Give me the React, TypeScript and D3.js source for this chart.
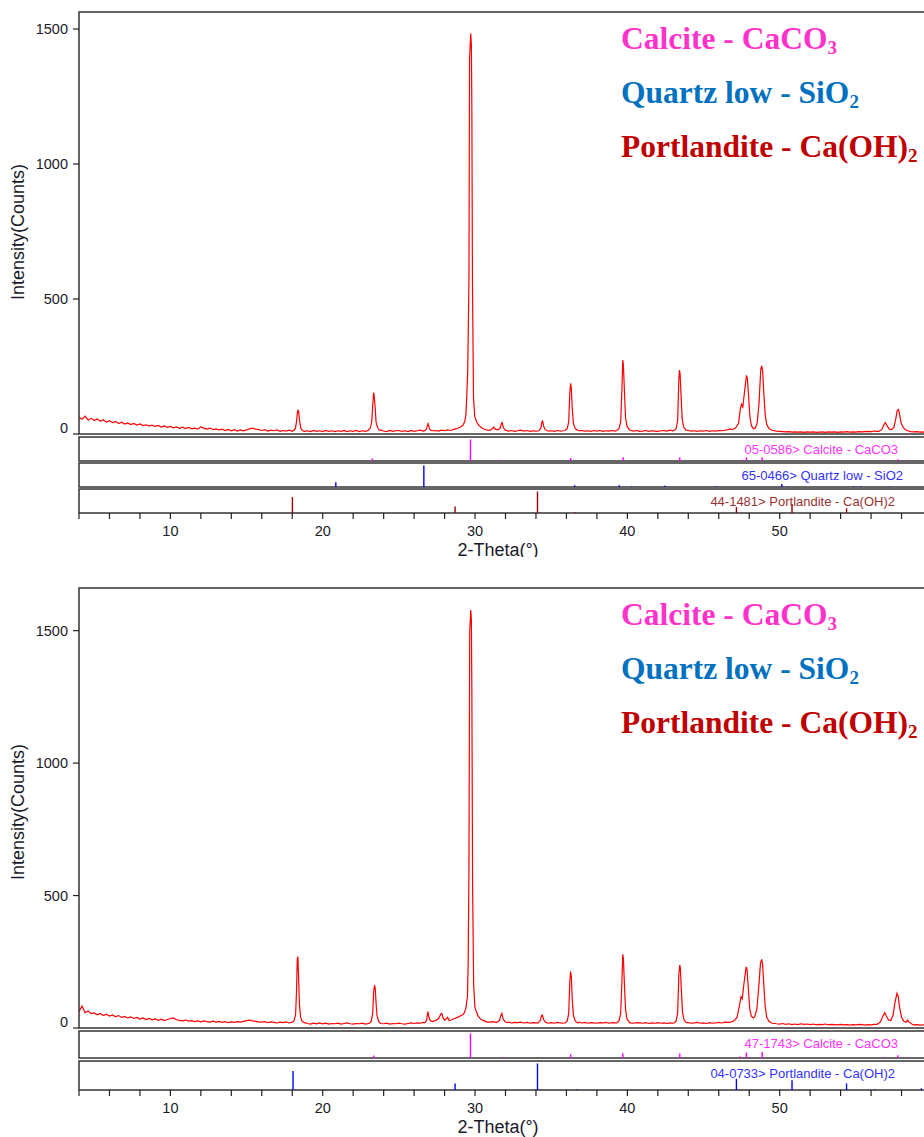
import React from "react";
import * as d3 from "d3";

// values
// background: counts every 0.2° starting at 4°, peaks: [2θ, counts]
const bgStart = 4;
const bgStep = 0.2;

const bgTop = [
  62, 55, 66, 52, 58, 50, 56, 47, 53, 44, 49, 42, 46, 39, 44, 37, 41, 35, 39, 33,
  37, 31, 34, 29, 33, 28, 32, 26, 30, 25, 28, 23, 26, 21, 25, 20, 24, 19, 22, 18,
  27, 21, 18, 22, 16, 19, 15, 18, 13, 17, 12, 16, 11, 15, 12, 15, 19, 22, 18, 16,
  13, 16, 11, 14, 12, 15, 10, 13, 11, 14, 10, 13, 11, 14, 10, 12, 9, 13, 10, 12,
  9, 13, 10, 12, 9, 12, 10, 13, 9, 12, 10, 13, 9, 12, 10, 12, 10, 13, 11, 14,
  11, 9, 13, 10, 12, 13, 10, 12, 9, 13, 10, 12, 14, 11, 13, 12, 10, 13, 11, 14,
  12, 15, 13, 17, 20, 24, 30, 36, 44, 60, 40, 28, 20, 16, 14, 13, 16, 15, 14, 17,
  14, 11, 13, 10, 12, 14, 11, 13, 10, 12, 11, 13, 14, 12, 11, 12, 10, 13, 11, 12,
  14, 15, 16, 14, 12, 13, 11, 12, 10, 13, 11, 13, 10, 12, 11, 13, 11, 14, 16, 15,
  12, 14, 11, 13, 10, 11, 13, 10, 12, 11, 10, 12, 13, 11, 14, 12, 14, 16, 15, 13,
  13, 11, 12, 10, 12, 11, 13, 10, 12, 11, 13, 12, 14, 16, 19, 22, 30, 40, 60, 80,
  40, 20, 30, 80, 100, 40, 18, 12, 11, 10, 10, 9, 8, 9, 7, 8, 7, 8, 6, 8,
  7, 8, 6, 7, 8, 6, 8, 7, 8, 6, 8, 7, 9, 7, 8, 7, 9, 8, 9, 10,
  9, 11, 10, 12, 15, 20, 18, 25, 60, 80, 25, 12, 10, 9, 8, 9, 7, 8, 6, 8,
  7,
];

const peaksTop: [number, number][][] = [
  [[18.1, 14], [18.2, 20], [18.28, 45], [18.34, 80], [18.38, 88], [18.42, 84], [18.48, 50], [18.56, 22], [18.66, 13]],
  [[23.0, 14], [23.12, 22], [23.22, 45], [23.28, 105], [23.34, 153], [23.38, 140], [23.44, 100], [23.5, 45], [23.6, 24], [23.72, 14]],
  [[26.7, 12], [26.8, 18], [26.88, 32], [26.92, 38], [26.98, 25], [27.06, 15], [27.2, 12]],
  [[28.9, 22], [29.05, 26], [29.2, 32], [29.32, 45], [29.4, 70], [29.45, 130], [29.52, 233], [29.6, 567], [29.64, 1389],
    [29.72, 1483], [29.76, 1440], [29.79, 1215], [29.83, 567], [29.9, 133], [29.98, 66], [30.1, 45], [30.25, 32], [30.45, 22], [30.7, 16]],
  [[31.0, 14], [31.15, 20], [31.23, 26], [31.32, 18], [31.5, 15], [31.65, 22], [31.74, 40], [31.78, 42], [31.86, 24], [31.98, 14]],
  [[34.2, 12], [34.32, 22], [34.4, 46], [34.44, 48], [34.5, 30], [34.6, 16], [34.75, 12]],
  [[35.9, 13], [36.05, 20], [36.15, 45], [36.22, 150], [36.28, 188], [36.32, 170], [36.38, 95], [36.46, 38], [36.58, 20], [36.75, 13]],
  [[39.3, 13], [39.45, 20], [39.56, 45], [39.64, 160], [39.7, 274], [39.74, 255], [39.8, 170], [39.88, 60], [39.98, 28], [40.15, 15]],
  [[43.05, 13], [43.2, 20], [43.3, 48], [43.38, 200], [43.42, 237], [43.46, 225], [43.52, 150], [43.6, 55], [43.7, 25], [43.85, 14]],
  [[46.9, 16], [47.1, 22], [47.3, 40], [47.42, 95], [47.5, 110], [47.58, 100], [47.7, 160], [47.82, 217], [47.88, 205],
    [47.96, 140], [48.05, 60], [48.15, 30], [48.28, 19], [48.4, 22], [48.52, 40], [48.64, 110], [48.76, 240], [48.82, 252],
    [48.88, 235], [48.96, 150], [49.05, 70], [49.15, 35], [49.3, 20], [49.5, 14], [49.8, 11]],
  [[56.5, 10], [56.7, 16], [56.85, 35], [56.94, 42], [57.05, 30], [57.2, 18], [57.35, 16], [57.5, 25], [57.62, 55],
    [57.72, 88], [57.8, 91], [57.88, 70], [57.98, 40], [58.1, 25], [58.25, 16], [58.45, 11]],
];

const bgBottom = [
  62, 83, 58, 64, 54, 57, 50, 55, 47, 52, 45, 49, 42, 47, 40, 44, 38, 42, 36, 40,
  34, 38, 32, 36, 31, 34, 29, 33, 28, 32, 36, 38, 31, 29, 27, 30, 26, 28, 24, 27,
  23, 27, 24, 22, 26, 22, 25, 21, 24, 20, 23, 21, 24, 22, 25, 28, 30, 27, 25, 23,
  22, 24, 20, 23, 21, 19, 22, 20, 23, 19, 21, 24, 30, 40, 25, 17, 15, 18, 16, 19,
  16, 18, 15, 17, 16, 18, 15, 17, 19, 16, 15, 17, 16, 18, 15, 17, 16, 30, 40, 20,
  16, 18, 15, 17, 16, 18, 16, 15, 17, 19, 17, 19, 18, 21, 20, 26, 24, 28, 36, 50,
  30, 38, 28, 34, 38, 44, 50, 70, 200, 900, 60, 35, 30, 28, 26, 22, 24, 21, 23, 30,
  20, 22, 19, 21, 20, 22, 19, 21, 18, 20, 19, 21, 35, 30, 20, 20, 18, 21, 19, 18,
  20, 60, 150, 40, 22, 19, 21, 18, 20, 19, 18, 20, 19, 21, 18, 20, 19, 40, 200, 60,
  21, 19, 18, 20, 19, 18, 20, 17, 19, 18, 20, 18, 19, 17, 19, 18, 24, 60, 200, 40,
  20, 18, 19, 21, 18, 19, 17, 20, 18, 19, 21, 19, 22, 21, 24, 27, 40, 90, 170, 220,
  60, 40, 45, 150, 250, 80, 30, 20, 17, 16, 15, 17, 14, 16, 13, 15, 13, 16, 14, 15,
  13, 15, 12, 14, 13, 15, 12, 14, 13, 12, 14, 12, 13, 11, 13, 12, 14, 13, 11, 13,
  12, 14, 22, 50, 45, 30, 50, 120, 75, 30, 22, 30, 22, 14, 12, 13, 11, 12, 14, 12,
  12,
];

const peaksBottom: [number, number][][] = [
  [[18.0, 22], [18.12, 28], [18.22, 50], [18.28, 140], [18.33, 262], [18.37, 269], [18.41, 200], [18.47, 90], [18.55, 40], [18.65, 25], [18.8, 20]],
  [[23.05, 17], [23.18, 25], [23.28, 55], [23.34, 135], [23.4, 162], [23.45, 150], [23.5, 95], [23.57, 45], [23.68, 24], [23.8, 17]],
  [[26.7, 20], [26.82, 28], [26.9, 62], [26.96, 45], [27.05, 28], [27.2, 24], [27.4, 28], [27.6, 35], [27.75, 52], [27.82, 55],
    [27.9, 38], [28.0, 30], [28.12, 35], [28.2, 40], [28.3, 28], [28.45, 30], [28.65, 36], [28.85, 40], [29.05, 46], [29.2, 50],
    [29.3, 58], [29.4, 75], [29.5, 118], [29.55, 245], [29.6, 596], [29.65, 1491], [29.72, 1578], [29.76, 1540], [29.79, 1288],
    [29.84, 533], [29.91, 162], [29.99, 80], [30.05, 68], [30.2, 45], [30.4, 32], [30.6, 27], [30.8, 22]],
  [[31.45, 22], [31.6, 28], [31.7, 48], [31.76, 55], [31.84, 35], [31.95, 24], [32.1, 20]],
  [[34.15, 19], [34.28, 28], [34.36, 46], [34.42, 49], [34.5, 32], [34.62, 22], [34.8, 18]],
  [[35.9, 19], [36.05, 26], [36.15, 55], [36.22, 170], [36.27, 213], [36.32, 195], [36.38, 110], [36.46, 48], [36.58, 26], [36.75, 19]],
  [[39.3, 19], [39.45, 27], [39.56, 55], [39.64, 170], [39.7, 278], [39.74, 262], [39.8, 175], [39.88, 70], [39.98, 33], [40.15, 21]],
  [[43.05, 19], [43.2, 26], [43.3, 55], [43.38, 200], [43.44, 238], [43.48, 225], [43.54, 150], [43.62, 60], [43.72, 30], [43.88, 20]],
  [[46.8, 22], [47.0, 27], [47.2, 40], [47.36, 85], [47.46, 118], [47.54, 110], [47.66, 170], [47.8, 231], [47.86, 220],
    [47.94, 150], [48.04, 70], [48.14, 45], [48.26, 38], [48.36, 42], [48.5, 70], [48.62, 150], [48.74, 245], [48.82, 259],
    [48.88, 240], [48.96, 160], [49.05, 80], [49.15, 40], [49.3, 25], [49.5, 18], [49.8, 16]],
  [[56.4, 14], [56.6, 22], [56.78, 45], [56.9, 58], [57.0, 45], [57.15, 30], [57.3, 28], [57.45, 50], [57.58, 100],
    [57.7, 131], [57.78, 120], [57.88, 75], [58.0, 40], [58.15, 25], [58.3, 22], [58.4, 30], [58.5, 22], [58.7, 14]],
];

// reference sticks: [2θ, relative intensity %]
const calciteTop: [number, number][] = [
  [23.26, 12], [29.7, 100], [31.67, 3], [36.28, 14], [39.72, 18], [43.44, 18], [47.56, 5], [47.82, 17], [48.85, 17],
  [56.86, 4], [57.77, 8], [58.43, 2],
];
const quartzTop: [number, number][] = [
  [20.86, 22], [26.64, 100], [36.54, 8], [39.47, 8], [40.29, 4], [42.45, 6], [45.79, 4], [50.14, 14], [50.62, 2],
  [54.87, 4], [55.33, 3], [57.23, 2], [59.96, 9],
];
const portlanditeTop: [number, number][] = [
  [18.01, 74], [28.69, 30], [34.1, 100], [36.55, 3], [47.16, 28], [50.81, 42], [54.39, 22],
];
const calciteBottom: [number, number][] = [
  [23.35, 10], [29.7, 100], [31.77, 3], [36.28, 15], [39.7, 19], [43.44, 18], [47.38, 6], [47.82, 22], [48.85, 25],
  [56.84, 4], [57.75, 11], [58.43, 3],
];
const portlanditeBottom: [number, number][] = [
  [18.05, 72], [28.69, 25], [34.1, 100], [36.72, 3], [47.16, 42], [50.81, 37], [54.39, 25], [56.25, 3], [59.3, 6],
];

const cardsTop = ["05-0586> Calcite - CaCO3", "65-0466> Quartz low - SiO2", "44-1481> Portlandite - Ca(OH)2"];
const cardsBottom = ["47-1743> Calcite - CaCO3", "04-0733> Portlandite - Ca(OH)2"];
const legendText: [string, string][] = [["Calcite - CaCO", "3"], ["Quartz low - SiO", "2"], ["Portlandite - Ca(OH)", "2"]];

const yTicks = [0, 500, 1000, 1500];
const xLabels = [10, 20, 30, 40, 50];
const xMinor = d3.range(4, 61, 2);

const W = 924;
const H = 1137;
const X0 = 79;
const X1 = 932;
const legendColors = ["#ff33cc", "#0070c0", "#c00000"];
const sans = "'Liberation Sans', Arial, sans-serif";
const serif = "'Liberation Serif', 'Times New Roman', serif";

type Pt = [number, number];

function mergeScan(bg: number[], peaks: Pt[][]): Pt[] {
  const kept: Pt[] = bg
    .map((v, i) => [+(bgStart + i * bgStep).toFixed(2), v] as Pt)
    .filter(([t]) => !peaks.some((p) => t >= p[0][0] && t <= p[p.length - 1][0]));
  return kept.concat(...peaks).sort((a, b) => a[0] - b[0]);
}

type Row = { sticks: Pt[]; label: string; stick: string; text: string; top: number; bottom: number; labelEnd: number };

function Panel(props: {
  id: string; mainTop: number; mainBottom: number; yMax: number; scan: Pt[]; rows: Row[];
  clipY: number; legendBase: number; labelMid: number;
}) {
  const { id, mainTop, mainBottom, yMax, scan, rows, clipY, legendBase, labelMid } = props;
  const x = d3.scaleLinear().domain([4, 60]).range([X0, X1]);
  const y = d3.scaleLinear().domain([0, yMax]).range([mainBottom, mainTop]);
  const line = d3.line<Pt>().x((d) => x(d[0])).y((d) => y(d[1]));
  const axisY = rows[rows.length - 1].bottom;

  return (
    <g clipPath={`url(#${id})`}>
      <defs>
        <clipPath id={id}>
          <rect x={0} y={mainTop - 12} width={W} height={clipY - mainTop + 12} />
        </clipPath>
        <clipPath id={id + "-plot"}>
          <rect x={X0} y={mainTop} width={X1 - X0} height={mainBottom - mainTop} />
        </clipPath>
      </defs>

      <path d={line(scan) || ""} fill="none" stroke="#ff0000" strokeWidth={1.2} clipPath={`url(#${id}-plot)`} />
      <rect x={X0} y={mainTop} width={X1 - X0} height={mainBottom - mainTop} fill="none" stroke="#333" strokeWidth={1.5} />

      {yTicks.map((d) => (
        <g key={d}>
          <line x1={X0 - 6} x2={X0} y1={y(d)} y2={y(d)} stroke="#222" strokeWidth={1.2} />
          <text x={X0 - 11} y={y(d) + 5 - (d === 0 ? 6 : 0)} textAnchor="end" fontFamily={sans} fontSize={14.5} fill="#1a1a2a">
            {d}
          </text>
        </g>
      ))}
      <text transform={`translate(24,${labelMid}) rotate(-90)`} textAnchor="middle" fontFamily={sans} fontSize={18} fill="#1a1a2a">
        Intensity(Counts)
      </text>

      {legendText.map((t, i) => (
        <text key={t[0]} x={621} y={legendBase + i * 54.2} fontFamily={serif} fontWeight="bold" fontSize={31.5} fill={legendColors[i]}>
          {t[0]}
          <tspan fontSize={19} dy={5}>{t[1]}</tspan>
        </text>
      ))}

      {rows.map((r) => {
        const h = r.bottom - r.top - 2.5;
        return (
          <g key={r.label}>
            <rect x={X0} y={r.top} width={X1 - X0} height={r.bottom - r.top} fill="none" stroke="#333" strokeWidth={1.5} />
            {r.sticks.map(([t, v]) => (
              <line key={t} x1={x(t)} x2={x(t)} y1={r.bottom} y2={r.bottom - (v / 100) * h} stroke={r.stick} strokeWidth={1.4} />
            ))}
            <text x={r.labelEnd} y={r.top + 16.5} textAnchor="end" fontFamily={sans} fontSize={13} fill={r.text}>
              {r.label}
            </text>
          </g>
        );
      })}

      {xMinor.map((t) => (
        <line key={t} x1={x(t)} x2={x(t)} y1={axisY} y2={axisY + 6} stroke="#222" strokeWidth={1.2} />
      ))}
      {xLabels.map((t) => (
        <text key={t} x={x(t)} y={axisY + 22.5} textAnchor="middle" fontFamily={sans} fontSize={14.5} fill="#1a1a2a">
          {t}
        </text>
      ))}
      <text x={498} y={axisY + 43} textAnchor="middle" fontFamily={sans} fontSize={18} fill="#1a1a2a">
        2-Theta(°)
      </text>
    </g>
  );
}

export default function App() {
  const scanTop = mergeScan(bgTop, peaksTop);
  const scanBottom = mergeScan(bgBottom, peaksBottom);

  const rowsTop: Row[] = [
    { sticks: calciteTop, label: cardsTop[0], stick: "#ff00ff", text: "#ff33ff", top: 437, bottom: 461, labelEnd: 898 },
    { sticks: quartzTop, label: cardsTop[1], stick: "#0000ff", text: "#3333ff", top: 463, bottom: 487, labelEnd: 903 },
    { sticks: portlanditeTop, label: cardsTop[2], stick: "#990000", text: "#993333", top: 489, bottom: 513, labelEnd: 895 },
  ];
  const rowsBottom: Row[] = [
    { sticks: calciteBottom, label: cardsBottom[0], stick: "#ff00ff", text: "#ff33ff", top: 1031, bottom: 1058, labelEnd: 898 },
    { sticks: portlanditeBottom, label: cardsBottom[1], stick: "#0000ff", text: "#3333ff", top: 1061, bottom: 1090, labelEnd: 895 },
  ];

  return (
    <svg width={W} height={H} style={{ position: "absolute", left: 0, top: 0, background: "#fff" }}>
      <Panel id="clipA" mainTop={12} mainBottom={434} yMax={1563} scan={scanTop} rows={rowsTop} clipY={557} legendBase={48.5} labelMid={232} />
      <Panel id="clipB" mainTop={588} mainBottom={1028} yMax={1661} scan={scanBottom} rows={rowsBottom} clipY={1137} legendBase={625} labelMid={812} />
    </svg>
  );
}
